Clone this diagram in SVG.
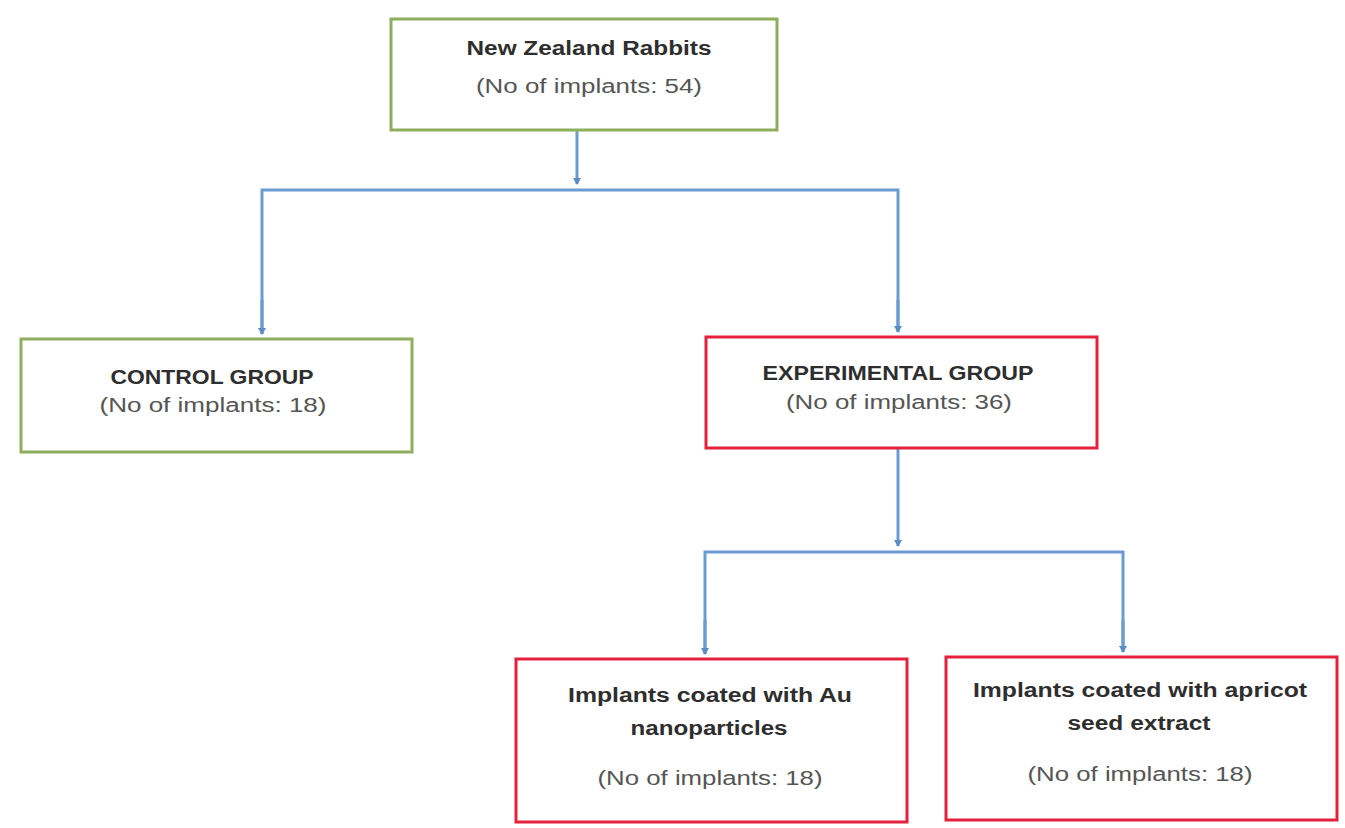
<svg xmlns="http://www.w3.org/2000/svg" width="1345" height="828" viewBox="0 0 1345 828">
<defs>
<marker id="ah" markerWidth="8" markerHeight="8" refX="6" refY="4" orient="auto" markerUnits="userSpaceOnUse">
<path d="M0,0 L7,4 L0,8 Z" fill="#5b8cc4"/>
</marker>
<style>
.g{fill:#fff;stroke:#8fae5b;stroke-width:3}
.r{fill:#fff;stroke:#e3213d;stroke-width:3}
.c{fill:none;stroke:#6a9bd1;stroke-width:3}
.b{font-family:"Liberation Sans",Arial,sans-serif;font-weight:bold;font-size:20px;fill:#2e2e2e;text-anchor:middle}
.n{font-family:"Liberation Sans",Arial,sans-serif;font-size:20px;fill:#555;text-anchor:middle}
</style>
</defs>
<rect width="1345" height="828" fill="#fff"/>
<g id="connectors">
<path class="c" d="M577,130 V184" marker-end="url(#ah)"/>
<path class="c" d="M262,334 V190 H898 V332" />
<path class="c" d="M262,300 V334" marker-end="url(#ah)"/>
<path class="c" d="M898,300 V332" marker-end="url(#ah)"/>
<path class="c" d="M898,448 V546" marker-end="url(#ah)"/>
<path class="c" d="M705,654 V552 H1123 V652"/>
<path class="c" d="M705,620 V654" marker-end="url(#ah)"/>
<path class="c" d="M1123,620 V652" marker-end="url(#ah)"/>
</g>
<g id="node-rabbits">
<rect class="g" x="391" y="19" width="386" height="111"/>
<text class="b" x="589" y="55" textLength="245" lengthAdjust="spacingAndGlyphs">New Zealand Rabbits</text>
<text class="n" x="589" y="93" textLength="226" lengthAdjust="spacingAndGlyphs">(No of implants: 54)</text>
</g>
<g id="node-control">
<rect class="g" x="21" y="339" width="391" height="113"/>
<text class="b" x="212" y="384" textLength="203" lengthAdjust="spacingAndGlyphs">CONTROL GROUP</text>
<text class="n" x="213" y="412" textLength="227" lengthAdjust="spacingAndGlyphs">(No of implants: 18)</text>
</g>
<g id="node-experimental">
<rect class="r" x="706" y="337" width="391" height="111"/>
<text class="b" x="898" y="380" textLength="271" lengthAdjust="spacingAndGlyphs">EXPERIMENTAL GROUP</text>
<text class="n" x="899" y="409" textLength="226" lengthAdjust="spacingAndGlyphs">(No of implants: 36)</text>
</g>
<g id="node-au">
<rect class="r" x="516" y="659" width="391" height="163"/>
<text class="b" x="710" y="702" textLength="284" lengthAdjust="spacingAndGlyphs">Implants coated with Au</text>
<text class="b" x="709" y="735" textLength="157" lengthAdjust="spacingAndGlyphs">nanoparticles</text>
<text class="n" x="710" y="785" textLength="225" lengthAdjust="spacingAndGlyphs">(No of implants: 18)</text>
</g>
<g id="node-apricot">
<rect class="r" x="946" y="657" width="391" height="163"/>
<text class="b" x="1140" y="697" textLength="334" lengthAdjust="spacingAndGlyphs">Implants coated with apricot</text>
<text class="b" x="1139" y="730" textLength="143" lengthAdjust="spacingAndGlyphs">seed extract</text>
<text class="n" x="1140" y="781" textLength="225" lengthAdjust="spacingAndGlyphs">(No of implants: 18)</text>
</g>
</svg>
